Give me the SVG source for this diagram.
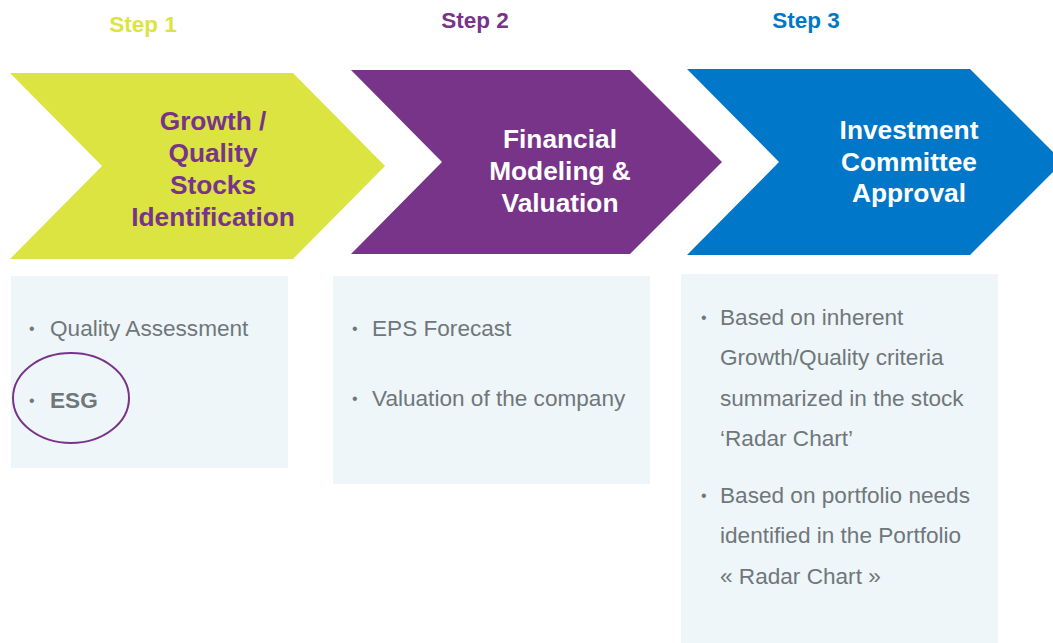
<svg xmlns="http://www.w3.org/2000/svg" width="1053" height="643" viewBox="0 0 1053 643">
<style>
.step{font-family:"Liberation Sans",Arial,sans-serif;font-weight:bold;font-size:22.5px;text-anchor:middle}
.chev{font-family:"Liberation Sans",Arial,sans-serif;font-weight:bold;font-size:26.3px;text-anchor:middle}
.box{fill:#EEF6F9}
.bt{font-family:"Liberation Sans",Arial,sans-serif;font-size:22.6px;fill:#70777A}
.bul{font-family:"Liberation Sans",Arial,sans-serif;font-size:16px;fill:#70777A}
</style>
<rect width="1053" height="643" fill="#FFFFFF"/>
<g id="step1">
<text class="step" x="143" y="32" fill="#DCE442">Step 1</text>
<polygon points="10,73 293,73 385,166 293,259 10,259 102,166" fill="#DCE442"/>
<text class="chev" fill="#773489"><tspan x="213" y="130">Growth /</tspan><tspan x="213" y="162">Quality</tspan><tspan x="213" y="194">Stocks</tspan><tspan x="213" y="226">Identification</tspan></text>
</g>
<g id="step2">
<text class="step" x="475" y="28" fill="#773489">Step 2</text>
<polygon points="351,70 630,70 722,162 630,254 351,254 442,162" fill="#773489"/>
<text class="chev" fill="#FFFFFF"><tspan x="560" y="148">Financial</tspan><tspan x="560" y="180">Modeling &amp;</tspan><tspan x="560" y="212">Valuation</tspan></text>
</g>
<g id="step3">
<text class="step" x="806" y="28" fill="#0077C8">Step 3</text>
<polygon points="687,69 970,69 1053,152 1053,172 970,255 687,255 779,162" fill="#0077C8"/>
<text class="chev" fill="#FFFFFF"><tspan x="909" y="139">Investment</tspan><tspan x="909" y="171">Committee</tspan><tspan x="909" y="202">Approval</tspan></text>
</g>
<g id="box1">
<rect class="box" x="11" y="276" width="277" height="192"/>
<text class="bul" x="29" y="334">•</text>
<text class="bt" x="50" y="336">Quality Assessment</text>
<text class="bul" x="29" y="406">•</text>
<text class="bt" x="50" y="408" font-weight="bold">ESG</text>
<ellipse cx="71" cy="398" rx="58" ry="45" fill="none" stroke="#773489" stroke-width="2"/>
</g>
<g id="box2">
<rect class="box" x="333" y="276" width="317" height="208"/>
<text class="bul" x="352" y="334">•</text>
<text class="bt" x="372" y="336">EPS Forecast</text>
<text class="bul" x="352" y="404">•</text>
<text class="bt" x="372" y="406">Valuation of the company</text>
</g>
<g id="box3">
<rect class="box" x="681" y="274" width="317" height="369"/>
<text class="bul" x="701" y="323">•</text>
<text class="bt"><tspan x="720" y="325">Based on inherent</tspan><tspan x="720" y="365">Growth/Quality criteria</tspan><tspan x="720" y="406">summarized in the stock</tspan><tspan x="720" y="446">‘Radar Chart’</tspan></text>
<text class="bul" x="701" y="501">•</text>
<text class="bt"><tspan x="720" y="503">Based on portfolio needs</tspan><tspan x="720" y="543">identified in the Portfolio</tspan><tspan x="720" y="584">« Radar Chart »</tspan></text>
</g>
<g id="connectors"></g>
</svg>
